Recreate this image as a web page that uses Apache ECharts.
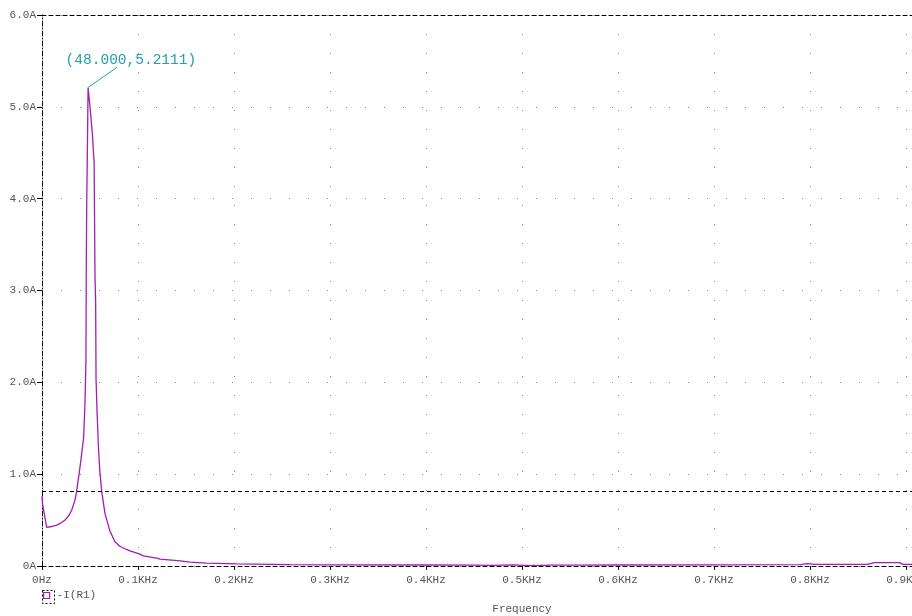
<!DOCTYPE html>
<html>
<head>
<meta charset="utf-8">
<script src="https://cdn.jsdelivr.net/npm/echarts@6/dist/echarts.min.js"></script>
<style>
html,body{margin:0;padding:0;background:#fff;}
#chart{width:912px;height:616px;}
</style>
</head>
<body>
<div id="chart"></div>
<script>
// Frequency (Hz) and current -I(R1) (A)
const freqHz = [0, 0.5, 4.9, 10, 15.3, 20, 24, 28, 31, 34.4, 36, 38.6, 40.5, 43.4, 44.8, 45.8, 46.1, 46.6, 47.6, 48,
  50, 52.5, 54.3, 55.2, 55.9, 56.3, 57.3, 58.6, 60.1, 62.2, 65.6, 70.8, 76, 81, 88, 91.7, 102, 105.5, 119.5, 123,
  144, 154, 171.5, 182, 203, 258, 300, 400, 450, 470, 490, 510, 530, 560, 600, 700, 790, 797, 805, 860, 867, 893, 897, 1000];
const currentA = [0.76, 0.68, 0.42, 0.43, 0.446, 0.47, 0.50, 0.55, 0.61, 0.72, 0.81, 1.0, 1.15, 1.40, 1.78, 2.24, 3.22, 3.95, 4.82, 5.2111,
  5.0, 4.7, 4.40, 3.15, 2.86, 2.03, 1.70, 1.34, 1.05, 0.81, 0.57, 0.38, 0.265, 0.215, 0.18, 0.165, 0.13, 0.11, 0.085, 0.075,
  0.055, 0.042, 0.032, 0.029, 0.023, 0.016, 0.013, 0.011, 0.010, 0.006, 0.012, 0.004, 0.010, 0.010, 0.011, 0.013, 0.016, 0.025, 0.018, 0.018, 0.036, 0.036, 0.018, 0.018];
const xTicksKHz = ['0Hz', '0.1KHz', '0.2KHz', '0.3KHz', '0.4KHz', '0.5KHz', '0.6KHz', '0.7KHz', '0.8KHz', '0.9KHz', '1.0KHz'];
const yTicks = ['0A', '1.0A', '2.0A', '3.0A', '4.0A', '5.0A', '6.0A'];
const cursorLevel = 0.805;
const peakPoint = [48.0, 5.2111];
const peakLabel = '(48.000,5.2111)';
const labelAnchor = [78, 5.43];
const seriesName = '-I(R1)';

const data = freqHz.map((f, i) => [f, currentA[i]]);
const FONT = 'Liberation Mono';
const TXT = '#555555';
const CURVE = '#a21db0';
const TEAL = '#22a1ab';

const chart = echarts.init(document.getElementById('chart'), null, {renderer: 'canvas'});
chart.setOption({
  animation: false,
  backgroundColor: '#ffffff',
  grid: {left: 42, top: 15, right: -90, bottom: 50, containLabel: false, outerBoundsMode: 'none'},
  legend: {
    left: 43, top: 590, itemWidth: 6, itemHeight: 6, itemGap: 10, padding: 0,
    icon: 'rect',
    textStyle: {fontFamily: FONT, fontSize: 11, color: TXT, padding: [0, 0, 0, 2]},
    data: [{name: seriesName, itemStyle: {color: '#ffffff', borderColor: CURVE, borderWidth: 1.2}}]
  },
  graphic: [{
    type: 'rect', left: 40, top: 588,
    shape: {width: 12, height: 13},
    style: {fill: 'none', stroke: '#000', lineWidth: 1, lineDash: [2, 2]}
  }],
  xAxis: [{
    type: 'value', min: 0, max: 1000, interval: 100, position: 'bottom',
    name: 'Frequency', nameLocation: 'middle', nameGap: 38,
    nameTextStyle: {fontFamily: FONT, fontSize: 11, color: TXT},
    axisLine: {show: true, onZero: false, lineStyle: {color: '#000', width: 1, type: [4, 3]}},
    axisTick: {show: true, length: 4, inside: false, lineStyle: {color: '#000'}},
    axisLabel: {margin: 9, fontFamily: FONT, fontSize: 11, color: TXT,
      formatter: v => xTicksKHz[Math.round(v / 100)]},
    splitLine: {show: true, lineStyle: {color: '#8a8a8a', width: 1, type: [1, 18]}}
  }, {
    type: 'value', min: 0, max: 1000, position: 'top',
    axisLine: {show: true, onZero: false, lineStyle: {color: '#000', width: 1, type: [4, 3]}},
    axisTick: {show: false}, axisLabel: {show: false}, splitLine: {show: false}
  }],
  yAxis: {
    type: 'value', min: 0, max: 6, interval: 1,
    axisLine: {show: true, onZero: false, lineStyle: {color: '#000', width: 1, type: [5, 2, 1, 2]}},
    axisTick: {show: true, length: 5, lineStyle: {color: '#000'}},
    axisLabel: {margin: 6, fontFamily: FONT, fontSize: 11, color: TXT,
      formatter: v => yTicks[Math.round(v)]},
    splitLine: {show: true, lineStyle: {color: '#8a8a8a', width: 1, type: [1, 18]}}
  },
  series: [{
    name: seriesName, type: 'line', data: data, showSymbol: false, smooth: false,
    xAxisIndex: 0,
    lineStyle: {color: CURVE, width: 1.3},
    itemStyle: {color: CURVE},
    markLine: {
      silent: true, symbol: ['none', 'none'],
      data: [
        {yAxis: cursorLevel, lineStyle: {color: '#000', width: 1, type: [4, 3]}, label: {show: false}},
        [{coord: peakPoint, lineStyle: {color: TEAL, width: 1, type: 'solid'}, label: {show: false}},
         {coord: labelAnchor}]
      ]
    },
    markPoint: {
      silent: true,
      data: [{coord: labelAnchor, symbol: 'circle', symbolSize: 0,
        label: {show: true, formatter: peakLabel, position: 'top', offset: [14, 5],
          fontFamily: FONT, fontSize: 14.5, color: TEAL}}]
    }
  }]
});
</script>
</body>
</html>
